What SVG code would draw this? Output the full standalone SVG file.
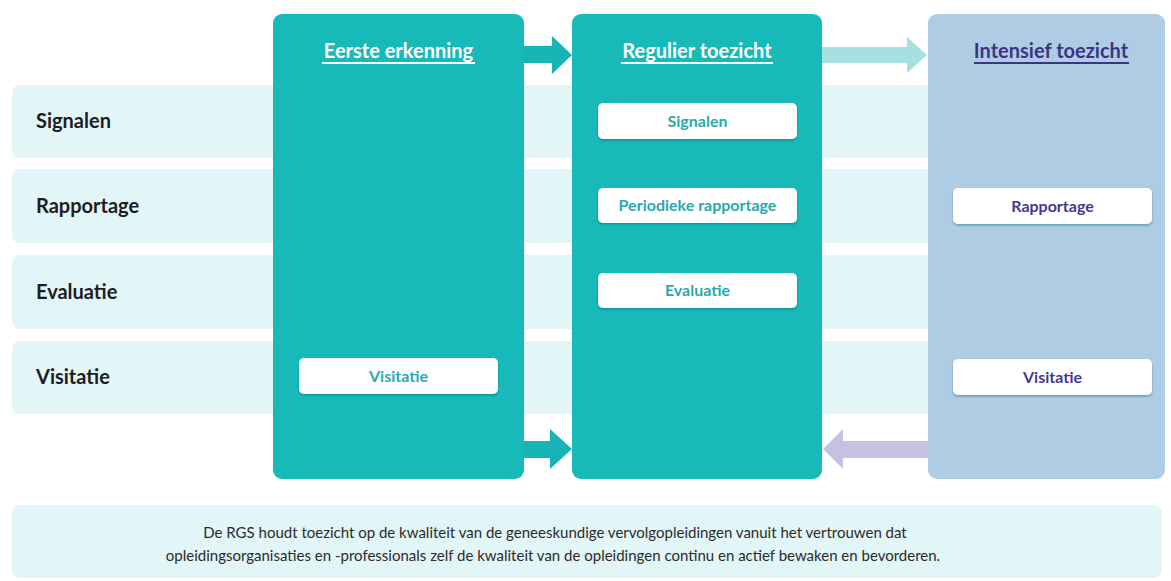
<svg xmlns="http://www.w3.org/2000/svg" width="1171" height="581" viewBox="0 0 1171 581">
<style>
.band{fill:#e2f5f7}
.rowlbl{font-family:Lato,"Liberation Sans",sans-serif;font-weight:700;font-size:20px;fill:#1d1d1f}
.col{fill:#17b9b9}
.col3{fill:#aecde4}
.title{font-family:Lato,"Liberation Sans",sans-serif;font-weight:700;font-size:20px;text-anchor:middle}
.box{fill:#ffffff;filter:url(#sh)}
.bt{font-family:Lato,"Liberation Sans",sans-serif;font-weight:700;font-size:16px;text-anchor:middle}
.teal{fill:#2aa9ab}
.purp{fill:#45388e}
.foot{font-family:Lato,"Liberation Sans",sans-serif;font-size:15px;fill:#2b2b2b;text-anchor:middle}
</style>
<defs>
<filter id="sh" x="-10%" y="-30%" width="120%" height="170%">
<feDropShadow dx="0" dy="1.5" stdDeviation="1.2" flood-color="#0a5f62" flood-opacity="0.45"/>
</filter>
</defs>
<rect width="1171" height="581" fill="#ffffff"/>
<g id="rows">
<rect class="band" x="12" y="85" width="1150" height="73" rx="8"/>
<rect class="band" x="12" y="169" width="1150" height="74" rx="8"/>
<rect class="band" x="12" y="255" width="1150" height="74" rx="8"/>
<rect class="band" x="12" y="341" width="1150" height="73" rx="8"/>
<text class="rowlbl" x="36" y="128">Signalen</text>
<text class="rowlbl" x="36" y="213">Rapportage</text>
<text class="rowlbl" x="36" y="299">Evaluatie</text>
<text class="rowlbl" x="36" y="384">Visitatie</text>
</g>
<g id="col-eerste">
<rect class="col" x="273" y="14" width="251" height="465" rx="9"/>
<text class="title" x="398.5" y="58" fill="#ffffff">Eerste erkenning</text>
<rect x="322" y="62" width="153" height="2" fill="#ffffff"/>
<rect class="box" x="299" y="358" width="199" height="36" rx="5"/>
<text class="bt teal" x="398.5" y="382">Visitatie</text>
</g>
<g id="col-regulier">
<rect class="col" x="572" y="14" width="250" height="465" rx="9"/>
<text class="title" x="697" y="58" fill="#ffffff">Regulier toezicht</text>
<rect x="621" y="62" width="152" height="2" fill="#ffffff"/>
<rect class="box" x="598" y="103" width="199" height="36" rx="5"/>
<text class="bt teal" x="697.5" y="127">Signalen</text>
<rect class="box" x="598" y="188" width="199" height="35" rx="5"/>
<text class="bt teal" x="697.5" y="211">Periodieke rapportage</text>
<rect class="box" x="598" y="273" width="199" height="35" rx="5"/>
<text class="bt teal" x="697.5" y="296">Evaluatie</text>
</g>
<g id="col-intensief">
<rect class="col3" x="928" y="14" width="237" height="465" rx="9"/>
<text class="title" x="1051" y="58" fill="#3b3484">Intensief toezicht</text>
<rect x="974" y="62" width="155" height="2" fill="#3b3484"/>
<rect class="box" x="953" y="188" width="199" height="36" rx="5"/>
<text class="bt purp" x="1052.5" y="212">Rapportage</text>
<rect class="box" x="953" y="359" width="199" height="36" rx="5"/>
<text class="bt purp" x="1052.5" y="383">Visitatie</text>
</g>
<g id="connectors">
<polygon points="524,46 552,46 552,36 572,55 552,74 552,63 524,63" fill="#17b3b5"/>
<polygon points="822,47 907,47 907,37 927,55 907,73 907,63 822,63" fill="#a6e0e1"/>
<polygon points="524,441 550,441 550,429 572,449 550,469 550,458 524,458" fill="#17b3b5"/>
<polygon points="928,441 843,441 843,429 823,449 843,469 843,458 928,458" fill="#c6c0e2"/>
</g>
<g id="footer">
<rect class="band" x="12" y="505" width="1150" height="73" rx="8"/>
<text class="foot" x="555" y="538">De RGS houdt toezicht op de kwaliteit van de geneeskundige vervolgopleidingen vanuit het vertrouwen dat</text>
<text class="foot" x="553" y="561">opleidingsorganisaties en -professionals zelf de kwaliteit van de opleidingen continu en actief bewaken en bevorderen.</text>
</g>
</svg>
